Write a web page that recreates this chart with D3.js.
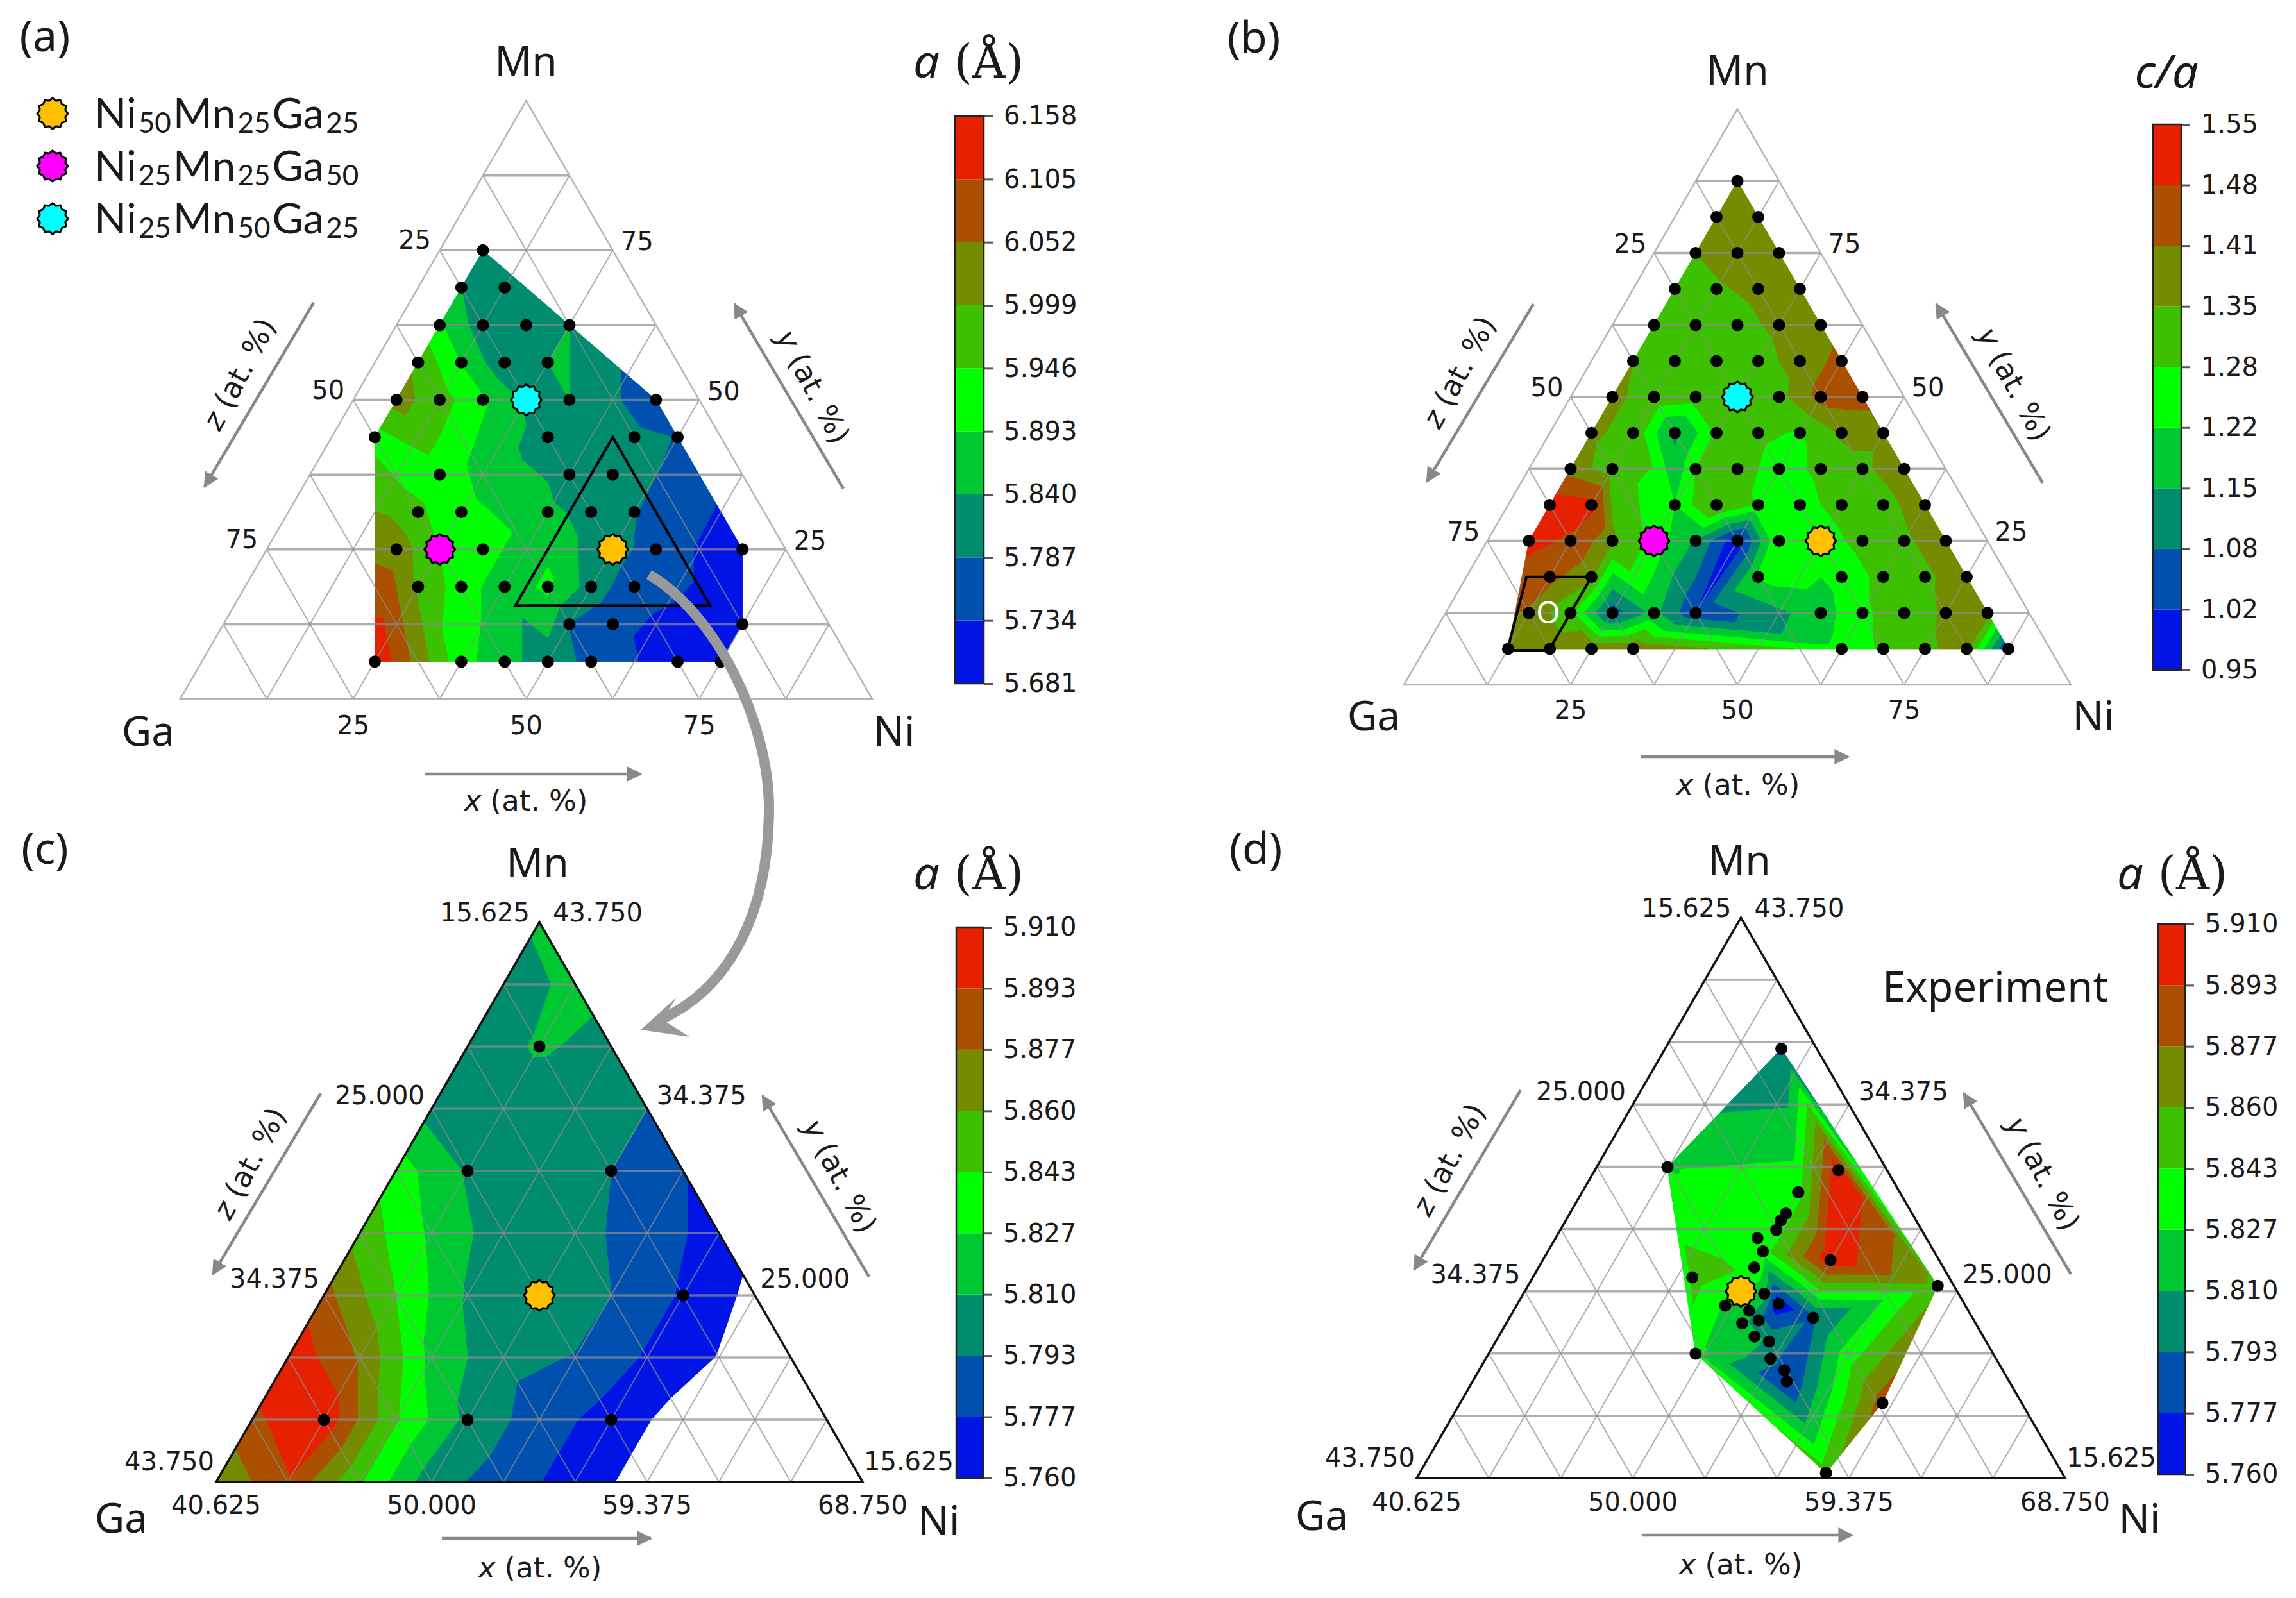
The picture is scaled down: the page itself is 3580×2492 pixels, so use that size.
<!DOCTYPE html>
<html>
<head>
<meta charset="utf-8">
<script src="https://cdn.jsdelivr.net/npm/d3@7"></script>
<style>
  html, body { margin: 0; background: #fff; }
  text { font-family: "DejaVu Sans"; fill: #1a1a1a; }
  .big { font-family: "Noto Sans"; }
  .legend { font-family: "Lato"; }
</style>
</head>
<body>
<script>
// Band colours of all four colour bars, bottom to top
const bandColors = ["#0014e6", "#0050af", "#008c6e", "#00c832", "#00ff00", "#3cc000", "#748c00", "#aa5000", "#e62000"];

// Colour bar labels
const aLevels = ["5.681", "5.734", "5.787", "5.840", "5.893", "5.946", "5.999", "6.052", "6.105", "6.158"];
const bLevels = ["0.95", "1.02", "1.08", "1.15", "1.22", "1.28", "1.35", "1.41", "1.48", "1.55"];
const cLevels = ["5.760", "5.777", "5.793", "5.810", "5.827", "5.843", "5.860", "5.877", "5.893", "5.910"];

// Tick labels on the triangle sides
const wideTicksZ = [25, 50, 75];
const wideTicksY = [75, 50, 25];
const wideTicksX = [25, 50, 75];
const zoomTicksZ = [15.625, 25, 34.375, 43.75];
const zoomTicksY = [43.75, 34.375, 25, 15.625];
const zoomTicksX = [40.625, 50, 59.375, 68.75];

// (a) lattice parameter, computed compositions
const aNi = [6.25, 6.25, 12.5, 6.25, 12.5, 18.75, 25, 6.25, 12.5, 18.75, 25,
  6.25, 12.5, 18.75, 25, 31.25, 43.75, 6.25, 31.25, 43.75, 50, 18.75, 37.5, 43.75,
  18.75, 25, 37.5, 43.75, 50, 18.75, 25, 31.25, 50, 56.25, 68.75,
  25, 31.25, 37.5, 43.75, 50, 56.25, 50, 56.25, 75, 25, 37.5, 43.75, 50, 56.25, 68.75, 75];
const aMn = [75, 68.75, 68.75, 62.5, 62.5, 62.5, 62.5, 56.25, 56.25, 56.25, 56.25,
  50, 50, 50, 50, 50, 50, 43.75, 43.75, 43.75, 43.75, 37.5, 37.5, 37.5,
  31.25, 31.25, 31.25, 31.25, 31.25, 25, 25, 25, 25, 25, 25,
  18.75, 18.75, 18.75, 18.75, 18.75, 18.75, 12.5, 12.5, 12.5, 6.25, 6.25, 6.25, 6.25, 6.25, 6.25, 6.25];
const aVal = [5.80, 5.84, 5.80, 5.90, 5.81, 5.83, 5.84, 5.99, 5.89, 5.80, 5.84,
  6.02, 5.97, 5.90, 5.83, 5.84, 5.75, 5.925, 5.81, 5.80, 5.785, 5.92, 5.786, 5.81,
  5.955, 5.91, 5.86, 5.81, 5.79, 6.03, 5.945, 5.92, 5.81, 5.76, 5.70,
  5.99, 5.92, 5.86, 5.905, 5.815, 5.755, 5.786, 5.75, 5.70, 6.15, 5.91, 5.86, 5.81, 5.775, 5.70, 5.70];

// (b) c/a ratio, computed compositions
const bNi = [6.25, 6.25, 12.5, 6.25, 12.5, 18.75, 6.25, 12.5, 18.75, 25,
  6.25, 12.5, 18.75, 25, 31.25, 6.25, 12.5, 18.75, 25, 31.25, 37.5,
  6.25, 12.5, 18.75, 25, 31.25, 37.5, 43.75, 6.25, 12.5, 18.75, 25, 31.25, 37.5, 43.75, 50,
  6.25, 12.5, 25, 31.25, 37.5, 43.75, 50, 56.25, 6.25, 12.5, 25, 31.25, 37.5, 43.75, 50, 56.25, 62.5,
  6.25, 12.5, 18.75, 25, 31.25, 37.5, 43.75, 50, 56.25, 62.5, 68.75,
  12.5, 18.75, 43.75, 56.25, 62.5, 68.75, 75,
  12.5, 18.75, 25, 31.25, 37.5, 56.25, 62.5, 68.75, 75, 81.25,
  12.5, 18.75, 25, 31.25, 62.5, 68.75, 75, 81.25, 87.5];
const bMn = [87.5, 81.25, 81.25, 75, 75, 75, 68.75, 68.75, 68.75, 68.75,
  62.5, 62.5, 62.5, 62.5, 62.5, 56.25, 56.25, 56.25, 56.25, 56.25, 56.25,
  50, 50, 50, 50, 50, 50, 50, 43.75, 43.75, 43.75, 43.75, 43.75, 43.75, 43.75, 43.75,
  37.5, 37.5, 37.5, 37.5, 37.5, 37.5, 37.5, 37.5, 31.25, 31.25, 31.25, 31.25, 31.25, 31.25, 31.25, 31.25, 31.25,
  25, 25, 25, 25, 25, 25, 25, 25, 25, 25, 25,
  18.75, 18.75, 18.75, 18.75, 18.75, 18.75, 18.75,
  12.5, 12.5, 12.5, 12.5, 12.5, 12.5, 12.5, 12.5, 12.5, 12.5,
  6.25, 6.25, 6.25, 6.25, 6.25, 6.25, 6.25, 6.25, 6.25];
const bVal = [1.38, 1.38, 1.38, 1.35, 1.37, 1.38, 1.33, 1.345, 1.36, 1.38,
  1.345, 1.33, 1.335, 1.36, 1.38, 1.35, 1.32, 1.31, 1.33, 1.37, 1.43,
  1.36, 1.33, 1.31, 1.30, 1.33, 1.43, 1.44, 1.36, 1.33, 1.13, 1.29, 1.29, 1.275, 1.36, 1.36,
  1.38, 1.32, 1.28, 1.30, 1.26, 1.29, 1.34, 1.38, 1.52, 1.50, 1.22, 1.36, 1.27, 1.26, 1.30, 1.33, 1.38,
  1.50, 1.47, 1.36, 1.26, 1.14, 0.97, 1.28, 1.25, 1.30, 1.34, 1.38,
  1.43, 1.36, 1.23, 1.24, 1.30, 1.34, 1.38,
  1.40, 1.30, 1.04, 1.17, 1.02, 1.19, 1.27, 1.31, 1.36, 1.38,
  1.37, 1.39, 1.40, 1.41, 1.24, 1.29, 1.34, 1.37, 1.00];

// (c) zoomed lattice parameter, row by row from Mn 15.625 up, Ni from 40.625
const cMnRows = [15.625, 18.75, 21.875, 25, 28.125, 31.25, 34.375, 37.5, 40.625, 43.75];
const cNiCols = [40.625, 43.75, 46.875, 50, 53.125, 56.25, 59.375, 62.5, 65.625, 68.75];
const cValRows = [
  [5.862, 5.892, 5.845, 5.80, 5.785, 5.77, 5.752, 5.72, 5.70, 5.70],
  [5.89, 5.905, 5.845, 5.805, 5.785, 5.77, 5.752, 5.72, 5.70],
  [5.905, 5.875, 5.822, 5.798, 5.792, 5.775, 5.759, 5.72],
  [5.883, 5.843, 5.808, 5.81, 5.793, 5.775, 5.755],
  [5.853, 5.824, 5.80, 5.798, 5.786, 5.77],
  [5.835, 5.808, 5.80, 5.793, 5.778],
  [5.803, 5.80, 5.80, 5.793],
  [5.80, 5.812, 5.805],
  [5.80, 5.815],
  [5.813]
];
const cDotNi = [43.75, 43.75, 50, 56.25, 43.75, 50, 56.25];
const cDotMn = [37.5, 31.25, 31.25, 25, 18.75, 18.75, 18.75];

// (d) experiment
const dNi = [45.67, 43.70, 51.19, 50.0, 50.0, 49.95, 50.0, 49.38, 49.95, 53.1, 49.98, 47.54, 58.4, 51.07,
  49.68, 51.95, 50.85, 51.5, 50.86, 53.8, 51.73, 52.48, 49.6, 52.97, 53.86, 54.25, 58.94, 58.25];
const dMn = [37.17, 31.23, 31.08, 29.97, 28.9, 28.56, 28.07, 27.67, 27.0, 26.57, 26.2, 25.7, 25.27, 24.88,
  24.28, 24.37, 24.02, 23.54, 23.39, 23.67, 22.73, 22.48, 21.87, 21.62, 21.04, 20.48, 19.39, 15.88];
const dVal = [5.791, 5.826, 5.905, 5.837, 5.835, 5.835, 5.835, 5.835, 5.835, 5.905, 5.84, 5.85, 5.855, 5.815,
  5.825, 5.765, 5.815, 5.80, 5.815, 5.79, 5.815, 5.805, 5.83, 5.80, 5.785, 5.775, 5.885, 5.85];

// Reference compositions
const refNames = ["Ni50Mn25Ga25", "Ni25Mn25Ga50", "Ni25Mn50Ga25"];
const refNi = [50, 25, 25];
const refMn = [25, 25, 50];
const refColors = ["#ffc000", "#ff00ff", "#00ffff"];

// Outlined regions: the (c) range inside (a), and the O region in (b)
const zoomRegionNi = [40.625, 68.75, 40.625];
const zoomRegionMn = [15.625, 15.625, 43.75];
const oRegionNi = [9, 18.75, 18.75, 12.5];
const oRegionMn = [18.75, 18.75, 6, 6];

const svg = d3.select("body").append("svg").attr("width", 3580).attr("height", 2492);

const defs = svg.append("defs");
defs.append("marker").attr("id", "head")
  .attr("viewBox", "0 0 10 10").attr("refX", 9).attr("refY", 5)
  .attr("markerUnits", "userSpaceOnUse").attr("markerWidth", 24).attr("markerHeight", 24)
  .attr("orient", "auto")
  .append("path").attr("d", "M0,0L10,5L0,10Z").attr("fill", "#888");

// Filled band pieces of one triangle, clipped by value
function clipBand(tri, lo, hi) {
  const clip = (poly, keep, level) => {
    const out = [];
    poly.forEach((p, i) => {
      const q = poly[(i + 1) % poly.length];
      const pIn = keep(p.v), qIn = keep(q.v);
      if (pIn) out.push(p);
      if (pIn !== qIn) {
        const t = (level - p.v) / (q.v - p.v);
        out.push({ x: p.x + t * (q.x - p.x), y: p.y + t * (q.y - p.y), v: level });
      }
    });
    return out;
  };
  let poly = clip(tri, v => v >= lo, lo);
  if (poly.length) poly = clip(poly, v => v <= hi, hi);
  return poly;
}

function drawContours(g, pts, levels) {
  const del = d3.Delaunay.from(pts, d => d.x, d => d.y);
  const bands = d3.pairs(levels.map(Number));
  bands.forEach(([lo, hi], b) => {
    let d = "";
    for (let i = 0; i < del.triangles.length; i += 3) {
      const tri = [pts[del.triangles[i]], pts[del.triangles[i + 1]], pts[del.triangles[i + 2]]];
      const poly = clipBand(tri, lo, hi);
      if (poly.length > 2) d += "M" + poly.map(p => p.x.toFixed(1) + "," + p.y.toFixed(1)).join("L") + "Z";
    }
    g.append("path").attr("d", d).attr("fill", bandColors[b])
      .attr("stroke", bandColors[b]).attr("stroke-width", 1).attr("stroke-linejoin", "round");
  });
}

// 12 pointed marker of the reference compositions
function refMarker(g, x, y, r, fill) {
  const star = d3.range(24).map(i => {
    const a = i * Math.PI / 12, rr = i % 2 ? r * 0.86 : r;
    return [x + rr * Math.sin(a), y - rr * Math.cos(a)];
  });
  g.append("path").attr("d", d3.line()(star) + "Z")
    .attr("fill", fill).attr("stroke", "#000").attr("stroke-width", 3);
}

function drawPanel(p) {
  const g = svg.append("g");
  const xScale = d3.scaleLinear().domain(p.niRange).range([p.ga[0], p.ni[0]]);
  const yScale = d3.scaleLinear().domain(p.mnRange).range([p.ga[1], p.top[1]]);
  const [niMin, niMax] = p.niRange, [mnMin, mnMax] = p.mnRange;
  const pos = (ni, mn) => [xScale(ni + (mn - mnMin) / 2), yScale(mn)];
  const line = d3.line();

  drawContours(g, p.points.map(d => {
    const [x, y] = pos(d.ni, d.mn);
    return { x, y, v: d.v };
  }), p.levels);

  // Lattice lines on top of the fill
  const step = (niMax - niMin) / p.divs;
  const grid = g.append("g").attr("fill", "none").attr("stroke", "#8c8c8c").attr("stroke-opacity", 0.7);
  d3.range(1, p.divs).forEach(i => {
    const d = step * i;
    grid.append("path").attr("stroke-width", 3.5)
      .attr("d", line([pos(niMin, mnMin + d), pos(niMax - d, mnMin + d)]));
    grid.append("path").attr("stroke-width", 2)
      .attr("d", line([pos(niMin + d, mnMin), pos(niMin + d, mnMax - d)]));
    grid.append("path").attr("stroke-width", 2)
      .attr("d", line([pos(niMin + d, mnMin), pos(niMin, mnMin + d)]));
  });
  g.append("path")
    .attr("d", line([pos(niMin, mnMin), pos(niMax, mnMin), pos(niMin, mnMax)]) + "Z")
    .attr("fill", "none").attr("stroke", p.edge).attr("stroke-width", p.edgeWidth);

  // Tick labels
  const fmt = p.tickFormat;
  p.ticksZ.forEach(t => {
    const mn = 100 - t - niMin, [x, y] = pos(niMin, mn), v = (mn - mnMin) / (mnMax - mnMin);
    const [dx, dy] = p.leftOffset(v);
    g.append("text").attr("x", x + dx).attr("y", y + dy).attr("text-anchor", p.zoomed ? "end" : "middle")
      .attr("dy", "0.35em").attr("font-size", 40).text(fmt(t));
  });
  p.ticksY.forEach(t => {
    const [x, y] = pos(niMax - (t - mnMin), t), v = (t - mnMin) / (mnMax - mnMin);
    const [dx, dy] = p.rightOffset(v);
    g.append("text").attr("x", x + dx).attr("y", y + dy).attr("text-anchor", p.zoomed ? "start" : "middle")
      .attr("dy", "0.35em").attr("font-size", 40).text(fmt(t));
  });
  p.ticksX.forEach(t => {
    g.append("text").attr("x", pos(t, mnMin)[0]).attr("y", p.ga[1] + p.bottomGap)
      .attr("text-anchor", "middle").attr("dy", "0.35em").attr("font-size", 40).text(fmt(t));
  });

  // Composition arrows with their labels
  const axisLabel = (name, [cx, cy], rot) => {
    const t = g.append("text").attr("transform", `translate(${cx},${cy}) rotate(${rot})`)
      .attr("text-anchor", "middle").attr("dy", "0.35em").attr("font-size", 45);
    t.append("tspan").attr("font-style", "italic").text(name);
    t.append("tspan").text(" (at. %)");
  };
  [p.arrowZ, p.arrowY, p.arrowX].forEach(a => {
    g.append("path").attr("d", line(a)).attr("stroke", "#888").attr("stroke-width", 4.5)
      .attr("fill", "none").attr("marker-end", "url(#head)");
  });
  axisLabel("z", p.labelZ, -62);
  axisLabel("y", p.labelY, 62);
  axisLabel("x", p.labelX, 0);

  // Corner names and panel letter
  [["Mn", p.mnLabel], ["Ga", p.gaLabel], ["Ni", p.niLabel], [p.letter, p.letterPos]].forEach(([s, xy]) => {
    g.append("text").attr("class", "big").attr("x", xy[0]).attr("y", xy[1]).attr("dy", "0.35em")
      .attr("text-anchor", "middle").attr("font-size", s === p.letter ? 68 : 64).text(s);
  });

  // Colour bar
  const barScale = d3.scalePoint().domain(p.levels).range([p.bar.y1, p.bar.y0]);
  g.append("g").selectAll("rect").data(d3.pairs(p.levels)).join("rect")
    .attr("x", p.bar.x).attr("width", p.bar.w)
    .attr("y", d => barScale(d[1])).attr("height", d => barScale(d[0]) - barScale(d[1]))
    .attr("fill", (d, i) => bandColors[i]);
  const barAxis = d3.axisRight(barScale).tickSize(14).tickPadding(17);
  const ax = g.append("g").attr("transform", `translate(${p.bar.x + p.bar.w},0)`).call(barAxis);
  ax.selectAll("text").attr("font-size", 40);
  ax.selectAll("line").attr("stroke", "#555").attr("stroke-width", 3);
  ax.select(".domain").remove();
  g.append("rect").attr("x", p.bar.x).attr("y", p.bar.y0).attr("width", p.bar.w).attr("height", p.bar.y1 - p.bar.y0)
    .attr("fill", "none").attr("stroke", "#222").attr("stroke-width", 2.5);

  // Composition dots and reference markers
  g.append("g").selectAll("circle").data(p.dots).join("circle")
    .attr("cx", d => pos(d.ni, d.mn)[0]).attr("cy", d => pos(d.ni, d.mn)[1])
    .attr("r", 9.5).attr("fill", "#000");
  p.refs.forEach(i => {
    const [x, y] = pos(refNi[i], refMn[i]);
    refMarker(g, x, y, 24, refColors[i]);
  });

  return { g, pos };
}

const toPoints = (ni, mn, val) => ni.map((n, i) => ({ ni: n, mn: mn[i], v: val[i] }));
const wideFormat = d3.format("d");
const zoomFormat = d3.format(".3f");
const cPoints = cValRows.flatMap((row, r) => row.map((v, c) => ({ ni: cNiCols[c], mn: cMnRows[r], v })));

const panelA = drawPanel({
  letter: "(a)", letterPos: [70, 56], ga: [281, 1090], ni: [1360, 1090], top: [820, 157],
  niRange: [0, 100], mnRange: [0, 100], divs: 8, edge: "#b4b4b4", edgeWidth: 2.5,
  levels: aLevels, points: toPoints(aNi, aMn, aVal),
  dots: toPoints(aNi, aMn, aVal).filter(d => !refNi.some((n, i) => n === d.ni && refMn[i] === d.mn)),
  refs: [0, 1, 2],
  ticksZ: wideTicksZ, ticksY: wideTicksY, ticksX: wideTicksX, tickFormat: wideFormat,
  leftOffset: () => [-39, -16], rightOffset: () => [38, -14], bottomGap: 41,
  arrowZ: [[489, 472], [319, 759]], arrowY: [[1315, 762], [1145, 474]], arrowX: [[663, 1207], [999, 1207]],
  labelZ: [373, 583], labelY: [1268, 603], labelX: [820, 1248],
  mnLabel: [820, 96], gaLabel: [231, 1141], niLabel: [1394, 1141],
  bar: { x: 1489, w: 45, y0: 181, y1: 1066 }
});

const panelB = drawPanel({
  letter: "(b)", letterPos: [1955, 58], ga: [2189, 1068], ni: [3229, 1068], top: [2709, 170],
  niRange: [0, 100], mnRange: [0, 100], divs: 8, edge: "#b4b4b4", edgeWidth: 2.5,
  levels: bLevels, points: toPoints(bNi, bMn, bVal),
  dots: toPoints(bNi, bMn, bVal).filter(d => !refNi.some((n, i) => n === d.ni && refMn[i] === d.mn)),
  refs: [0, 1, 2],
  ticksZ: wideTicksZ, ticksY: wideTicksY, ticksX: wideTicksX, tickFormat: wideFormat,
  leftOffset: () => [-37, -15], rightOffset: () => [37, -15], bottomGap: 39,
  arrowZ: [[2391, 474], [2225, 751]], arrowY: [[3185, 753], [3019, 474]], arrowX: [[2558, 1180], [2882, 1180]],
  labelZ: [2275, 580], labelY: [3141, 599], labelX: [2710, 1223],
  mnLabel: [2709, 110], gaLabel: [2142, 1117], niLabel: [3264, 1117],
  bar: { x: 3357, w: 44, y0: 194, y1: 1045 }
});

const panelC = drawPanel({
  letter: "(c)", letterPos: [70, 1323], ga: [337, 2311], ni: [1345, 2311], top: [841, 1438],
  niRange: [40.625, 68.75], mnRange: [15.625, 43.75], divs: 9, edge: "#111", edgeWidth: 3.5, zoomed: true,
  levels: cLevels, points: cPoints,
  dots: toPoints(cDotNi, cDotMn, cDotNi), refs: [0],
  ticksZ: zoomTicksZ, ticksY: zoomTicksY, ticksX: zoomTicksX, tickFormat: zoomFormat,
  leftOffset: v => [-3 - 12 * v, -32 + 17 * v], rightOffset: v => [2 + 19 * v, -32 + 17 * v], bottomGap: 36,
  arrowZ: [[500, 1705], [332, 1987]], arrowY: [[1355, 1991], [1189, 1709]], arrowX: [[689, 2399], [1015, 2399]],
  labelZ: [389, 1814], labelY: [1310, 1834], labelX: [842, 2444],
  mnLabel: [838, 1346], gaLabel: [189, 2368], niLabel: [1464, 2372],
  bar: { x: 1491, w: 42, y0: 1446, y1: 2305 }
});

const panelD = drawPanel({
  letter: "(d)", letterPos: [1958, 1323], ga: [2209, 2305], ni: [3220, 2305], top: [2713, 1431],
  niRange: [40.625, 68.75], mnRange: [15.625, 43.75], divs: 9, edge: "#111", edgeWidth: 3.5, zoomed: true,
  levels: cLevels, points: toPoints(dNi, dMn, dVal),
  dots: toPoints(dNi, dMn, dVal), refs: [0],
  ticksZ: zoomTicksZ, ticksY: zoomTicksY, ticksX: zoomTicksX, tickFormat: zoomFormat,
  leftOffset: v => [-3 - 12 * v, -32 + 17 * v], rightOffset: v => [2 + 19 * v, -32 + 17 * v], bottomGap: 37,
  arrowZ: [[2371, 1700], [2205, 1980]], arrowY: [[3229, 1987], [3062, 1705]], arrowX: [[2561, 2394], [2888, 2394]],
  labelZ: [2259, 1808], labelY: [3186, 1830], labelX: [2714, 2439],
  mnLabel: [2712, 1342], gaLabel: [2061, 2364], niLabel: [3336, 2369],
  bar: { x: 3365, w: 42, y0: 1441, y1: 2299 }
});

// Outlined regions
const outline = (panel, nis, mns) => panel.g.append("path")
  .attr("d", d3.line()(nis.map((n, i) => panel.pos(n, mns[i]))) + "Z")
  .attr("fill", "none").attr("stroke", "#000").attr("stroke-width", 4);
outline(panelA, zoomRegionNi, zoomRegionMn);
outline(panelB, oRegionNi, oRegionMn);
svg.append("text").attr("class", "big").attr("x", 2414).attr("y", 955).attr("dy", "0.35em")
  .attr("text-anchor", "middle").attr("font-size", 48).style("fill", "#fff").text("O");

// Legend of panel (a)
refNames.forEach((name, i) => {
  const y = 177 + i * 82;
  refMarker(svg, 82, y, 24, refColors[i]);
  const t = svg.append("text").attr("class", "legend").attr("x", 144).attr("y", y + 30);
  name.match(/[A-Za-z]+|\d+/g).forEach(part => {
    const sub = /\d/.test(part);
    t.append("tspan").attr("font-size", sub ? 44 : 66).attr("dy", sub ? 7 : -7).attr("dx", 3).text(part);
  });
});

// Colour bar titles
const barTitle = (x, y, it, rest) => {
  const t = svg.append("text").attr("x", x).attr("y", y).attr("text-anchor", "middle").attr("dy", "0.35em")
    .attr("font-size", 72);
  t.append("tspan").attr("font-style", "italic").attr("font-family", "Noto Sans").text(it);
  if (rest) t.append("tspan").attr("font-family", "DejaVu Serif").text(rest);
};
barTitle(1510, 96, "a", " (Å)");
barTitle(3378, 112, "c/a");
barTitle(1510, 1362, "a", " (Å)");
barTitle(3387, 1362, "a", " (Å)");

svg.append("text").attr("class", "big").attr("x", 3111).attr("y", 1539).attr("dy", "0.35em")
  .attr("text-anchor", "middle").attr("font-size", 65).text("Experiment");

// Curved arrow from the region in (a) to panel (c)
svg.append("path").attr("d", "M1012,896C1120,960 1199,1130 1199,1260C1199,1420 1140,1540 1030,1590")
  .attr("fill", "none").attr("stroke", "#999").attr("stroke-width", 16);
svg.append("path").attr("d", "M999,1606L1055,1555L1033,1590L1075,1617Z").attr("fill", "#999");
</script>
</body>
</html>
